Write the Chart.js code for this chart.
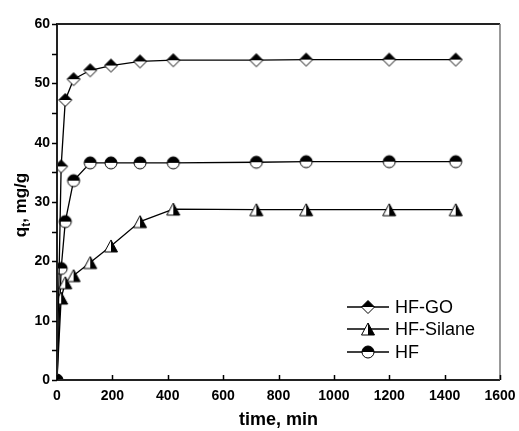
<!DOCTYPE html>
<html>
<head>
<meta charset="utf-8">
<script src="https://cdn.jsdelivr.net/npm/chart.js@4.4.0/dist/chart.umd.min.js"></script>
<style>
  html, body { margin: 0; padding: 0; background: #fff; }
  #wrap { width: 519px; height: 431px; }
</style>
</head>
<body>
<div id="wrap"><canvas id="kineticsChart" width="519" height="431"></canvas></div>
<script>
// tempo de contato (min)
const times = [0, 15, 30, 60, 120, 195, 300, 420, 720, 900, 1200, 1440];
const hfGO = [0, 36.0, 47.2, 50.7, 52.2, 53.0, 53.7, 53.9, 53.9, 54.0, 54.0, 54.0];
const hfSilane = [0, 13.8, 16.4, 17.6, 19.8, 22.6, 26.7, 28.8, 28.7, 28.7, 28.7, 28.7];
const hf = [0, 18.8, 26.7, 33.6, 36.6, 36.6, 36.6, 36.6, 36.7, 36.8, 36.8, 36.8];
const seriesNames = ['HF-GO', 'HF-Silane', 'HF'];
const xTicks = [0, 200, 400, 600, 800, 1000, 1200, 1400, 1600];
const yTicks = [0, 10, 20, 30, 40, 50, 60];

const FONT = '"Liberation Sans", Arial, sans-serif';

// marcadores meio preenchidos
function drawMarker(ctx, kind, cx, cy) {
    ctx.lineWidth = 1;
    ctx.strokeStyle = '#000';
    if (kind === 'diamond') {
        const r = 6.5;
        ctx.beginPath();
        ctx.moveTo(cx - r, cy); ctx.lineTo(cx, cy - r); ctx.lineTo(cx + r, cy); ctx.closePath();
        ctx.fillStyle = '#000'; ctx.fill();
        ctx.beginPath();
        ctx.moveTo(cx - r, cy); ctx.lineTo(cx, cy + r); ctx.lineTo(cx + r, cy); ctx.closePath();
        ctx.fillStyle = '#fff'; ctx.fill();
        ctx.beginPath();
        ctx.moveTo(cx - r, cy); ctx.lineTo(cx, cy - r); ctx.lineTo(cx + r, cy); ctx.lineTo(cx, cy + r); ctx.closePath();
        ctx.stroke();
    } else if (kind === 'triangle') {
        const w = 6.5, h = 6;
        ctx.beginPath();
        ctx.moveTo(cx, cy - h); ctx.lineTo(cx, cy + h); ctx.lineTo(cx - w, cy + h); ctx.closePath();
        ctx.fillStyle = '#fff'; ctx.fill();
        ctx.beginPath();
        ctx.moveTo(cx, cy - h); ctx.lineTo(cx + w, cy + h); ctx.lineTo(cx, cy + h); ctx.closePath();
        ctx.fillStyle = '#000'; ctx.fill();
        ctx.beginPath();
        ctx.moveTo(cx, cy - h); ctx.lineTo(cx + w, cy + h); ctx.lineTo(cx - w, cy + h); ctx.closePath();
        ctx.stroke();
    } else {
        const r = 6;
        ctx.beginPath(); ctx.arc(cx, cy, r, Math.PI, 2 * Math.PI); ctx.closePath();
        ctx.fillStyle = '#000'; ctx.fill();
        ctx.beginPath(); ctx.arc(cx, cy, r, 0, Math.PI); ctx.closePath();
        ctx.fillStyle = '#fff'; ctx.fill();
        ctx.beginPath(); ctx.arc(cx, cy, r, 0, 2 * Math.PI); ctx.stroke();
    }
}

function markerCanvas(kind) {
    const c = document.createElement('canvas');
    c.width = 16; c.height = 16;
    drawMarker(c.getContext('2d'), kind, 8, 8);
    return c;
}

const kinds = ['diamond', 'triangle', 'circle'];

// moldura, ticks, legenda e título do eixo y
const framePlugin = {
    id: 'framePlugin',
    afterDraw(chart) {
        const ctx = chart.ctx;
        const a = chart.chartArea;
        const xs = chart.scales.x, ys = chart.scales.y;
        ctx.save();
        ctx.strokeStyle = '#222';
        ctx.lineWidth = 2;
        ctx.beginPath();
        ctx.moveTo(a.left, a.bottom); ctx.lineTo(a.left, a.top); ctx.lineTo(a.right, a.top);
        ctx.moveTo(a.left, a.bottom); ctx.lineTo(a.right, a.bottom);
        ctx.stroke();
        ctx.strokeStyle = '#777';
        ctx.lineWidth = 1.5;
        ctx.beginPath(); ctx.moveTo(a.right, a.top); ctx.lineTo(a.right, a.bottom); ctx.stroke();

        ctx.strokeStyle = '#000';
        ctx.lineWidth = 1.5;
        ctx.beginPath();
        xTicks.forEach(v => {
            const px = Math.round(xs.getPixelForValue(v)) + 0.5;
            ctx.moveTo(px, a.bottom); ctx.lineTo(px, a.bottom - 5);
        });
        for (let v = 0; v <= 60; v += 5) {
            const py = Math.round(ys.getPixelForValue(v)) + 0.5;
            ctx.moveTo(a.left, py); ctx.lineTo(a.left - 5, py);
        }
        ctx.stroke();

        // legenda
        const rows = [307, 329, 352];
        seriesNames.forEach((name, i) => {
            const y = rows[i];
            ctx.strokeStyle = '#000';
            ctx.lineWidth = 1.3;
            ctx.beginPath(); ctx.moveTo(347, y); ctx.lineTo(389, y); ctx.stroke();
            drawMarker(ctx, kinds[i], 368, y);
            ctx.fillStyle = '#000';
            ctx.font = '18px ' + FONT;
            ctx.textAlign = 'left';
            ctx.textBaseline = 'middle';
            ctx.fillText(name, 395, y + 1);
        });

        // título do eixo y: q_t, mg/g
        ctx.translate(20, 205);
        ctx.rotate(-Math.PI / 2);
        ctx.fillStyle = '#000';
        ctx.textBaseline = 'alphabetic';
        ctx.textAlign = 'left';
        const big = 'bold 17px ' + FONT, small = 'bold 12px ' + FONT;
        ctx.font = big; const w1 = ctx.measureText('q').width;
        ctx.font = small; const w2 = ctx.measureText('t').width;
        ctx.font = big; const w3 = ctx.measureText(', mg/g').width;
        let x0 = -(w1 + w2 + w3) / 2;
        ctx.font = big; ctx.fillText('q', x0, 6);
        ctx.font = small; ctx.fillText('t', x0 + w1, 10);
        ctx.font = big; ctx.fillText(', mg/g', x0 + w1 + w2, 6);
        ctx.restore();
    }
};

const makeSet = (label, data, i) => ({
    label: label,
    data: times.map((t, k) => ({ x: t, y: data[k] })),
    borderColor: '#000',
    borderWidth: 1.3,
    pointStyle: markerCanvas(kinds[i]),
    pointRadius: 6,
    pointHoverRadius: 6,
    tension: 0,
    fill: false
});

const noPad = s => { s.paddingLeft = 0; s.paddingRight = 0; s.paddingTop = 0; s.paddingBottom = 0; };

new Chart(document.getElementById('kineticsChart'), {
    type: 'line',
    data: {
        datasets: [
            makeSet(seriesNames[0], hfGO, 0),
            makeSet(seriesNames[1], hfSilane, 1),
            makeSet(seriesNames[2], hf, 2)
        ]
    },
    options: {
        responsive: false,
        animation: false,
        layout: { padding: { top: 24, right: 19, left: 0, bottom: 0 } },
        plugins: { legend: { display: false }, tooltip: { enabled: false } },
        scales: {
            x: {
                type: 'linear',
                min: 0, max: 1600,
                afterFit: s => { s.height = 51; noPad(s); },
                afterBuildTicks: s => { s.ticks = xTicks.map(v => ({ value: v })); },
                grid: { display: false, drawTicks: false },
                border: { display: false },
                ticks: { color: '#000', padding: 8, maxRotation: 0, callback: v => String(v), font: { family: FONT, size: 14, weight: 'bold' } },
                title: { display: true, text: 'time, min', color: '#000', padding: { top: 3, bottom: 0 }, font: { family: FONT, size: 18, weight: 'bold' } }
            },
            y: {
                min: 0, max: 60,
                afterFit: s => { s.width = 57; noPad(s); },
                afterBuildTicks: s => { s.ticks = yTicks.map(v => ({ value: v })); },
                grid: { display: false, drawTicks: false },
                border: { display: false },
                ticks: { color: '#000', padding: 7, callback: v => String(v), font: { family: FONT, size: 14, weight: 'bold' } }
            }
        }
    },
    plugins: [framePlugin]
});
</script>
</body>
</html>
